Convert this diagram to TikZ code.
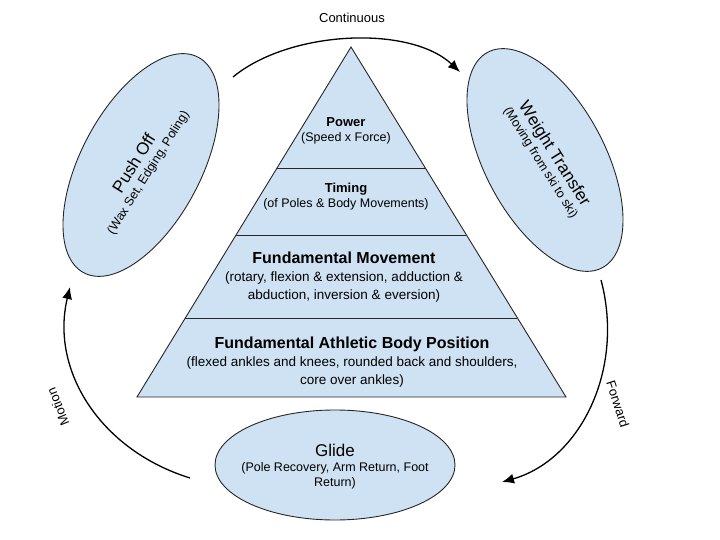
\documentclass[tikz,border=0pt]{standalone}
\usepackage{fontspec}
\setmainfont{Liberation Sans}
\usetikzlibrary{arrows.meta}
\definecolor{fillb}{HTML}{CFE2F3}
\begin{document}
\begin{tikzpicture}[x=1pt,y=-1pt,
  shp/.style={draw=black!85,line width=0.9pt,fill=fillb},
  arr/.style={line width=1.3pt,-{Latex[length=12pt,width=10pt]}},
  t/.style={align=center,font=\fontsize{12.5}{15}\selectfont}]
\useasboundingbox (0,0) rectangle (720,540);
% pyramid
\path[shp] (351,47) -- (566,397) -- (137,397) -- cycle;
\def\lx#1{351-(#1-47)*0.6114}
\def\rx#1{351+(#1-47)*0.6143}
\draw[black!85,line width=0.9pt] ({\lx{168}},168) -- ({\rx{168}},168);
\draw[black!85,line width=0.9pt] ({\lx{235}},235) -- ({\rx{235}},235);
\draw[black!85,line width=0.9pt] ({\lx{318}},318) -- ({\rx{318}},318);
\node[t] (pow) at (346,131) {{\bfseries\fontsize{13}{15}\selectfont Power}\\(Speed x Force)};
\node[t] (tim) at (346,197) {{\bfseries\fontsize{13}{15}\selectfont Timing}\\(of Poles \& Body Movements)};
\node[t,font=\fontsize{13.5}{18}\selectfont] (fm) at (344,277) {{\bfseries\fontsize{16}{18}\selectfont Fundamental Movement}\\(rotary, flexion \& extension, adduction \&\\abduction, inversion \& eversion)};
\node[t,font=\fontsize{13.5}{18}\selectfont] (fab) at (352,362) {{\bfseries\fontsize{16}{18}\selectfont Fundamental Athletic Body Position}\\(flexed ankles and knees, rounded back and shoulders,\\core over ankles)};
% ellipses
\path[shp,rotate around={62:(141,165)}] (141,165) ellipse (122 and 60);
\node[t,rotate=58] (po) at (141,168) {{\fontsize{17}{19}\selectfont Push Off}\\(Wax Set, Edging, Poling)};
\path[shp,rotate around={-62:(545,160)}] (545,160) ellipse (122 and 60);
\node[t,rotate=-58] (wt) at (548,158) {{\fontsize{17}{19}\selectfont Weight Transfer}\\(Moving from ski to ski)};
\path[shp] (335,465) ellipse (120 and 55);
\node[t] (gl) at (335,467) {{\fontsize{17}{19}\selectfont Glide}\\(Pole Recovery, Arm Return, Foot\\Return)};
% arrows
\coordinate (c1) at (233,77); \coordinate (c2) at (460,72);
\draw[arr] (c1) .. controls (290,30) and (410,25) .. (c2);
\coordinate (f1) at (601,280); \coordinate (f2) at (502,482);
\draw[arr] (f1) .. controls (625,370) and (580,460) .. (f2);
\coordinate (m1) at (190,478); \coordinate (m2) at (70,287);
\draw[arr] (m1) .. controls (100,450) and (50,370) .. (m2);
\node[font=\fontsize{13}{15}\selectfont] (lc) at (352,18) {Continuous};
\node[font=\fontsize{13}{15}\selectfont,rotate=-72] (lf) at (618,404) {Forward};
\node[font=\fontsize{13}{15}\selectfont,rotate=112] (lm) at (58,407) {Motion};
\end{tikzpicture}
\end{document}
